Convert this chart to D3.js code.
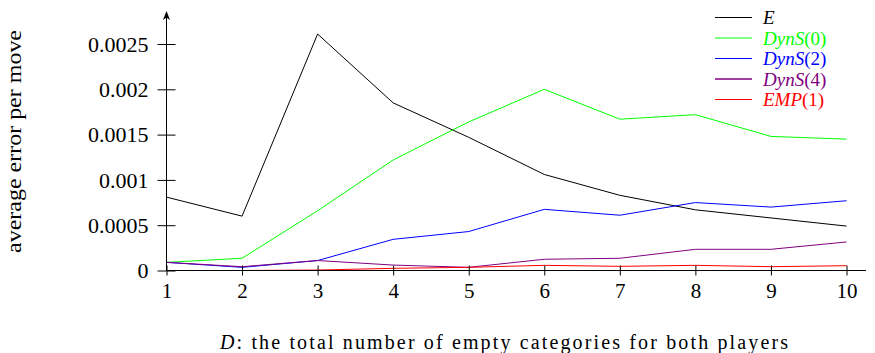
<!DOCTYPE html>
<html>
<head>
<meta charset="utf-8">
<script src="https://cdn.jsdelivr.net/npm/d3@7"></script>
<style>
  body { margin: 0; background: #fff; }
  svg { display: block; }
  text { font-family: "Liberation Serif", "Times New Roman", serif; fill: #000; }
  .axis path { display: none; }
</style>
</head>
<body>
<div id="chart"></div>
<script>

// values
var categories = [1, 2, 3, 4, 5, 6, 7, 8, 9, 10];
var yTicks = [0, 0.0005, 0.001, 0.0015, 0.002, 0.0025];
var yTickLabels = ["0", "0.0005", "0.001", "0.0015", "0.002", "0.0025"];

var valuesE     = [0.00081, 0.00060, 0.00261, 0.00185, 0.00147, 0.00106, 0.00083, 0.00067, 0.00058, 0.00049];
var valuesDyn0  = [0.00009, 0.000135, 0.00066, 0.00122, 0.00164, 0.00200, 0.00167, 0.00172, 0.00148, 0.00145];
var valuesDyn2  = [0.00009, 0.000035, 0.00011, 0.000344, 0.00043, 0.000675, 0.00061, 0.00075, 0.00070, 0.00077];
var valuesDyn4  = [0.00009, 0.000042, 0.00011, 0.00006, 0.000035, 0.000124, 0.000135, 0.000234, 0.000234, 0.000315];
var valuesEmp1  = [0, 0, 0.000005, 0.000024, 0.000035, 0.000057, 0.000046, 0.000057, 0.000042, 0.000053];

var seriesNames = [["E", ""], ["DynS", "(0)"], ["DynS", "(2)"], ["DynS", "(4)"], ["EMP", "(1)"]];
var seriesColors = ["#000000", "#00ff00", "#0000ff", "#800080", "#ff0000"];
var seriesValues = [valuesE, valuesDyn0, valuesDyn2, valuesDyn4, valuesEmp1];

var width = 875, height = 353;
var serif = "'Liberation Serif', serif";

var svg = d3.select("#chart").append("svg")
    .attr("width", width)
    .attr("height", height);

var x = d3.scaleLinear().domain([1, 10]).range([166.5, 846.5]);
var y = d3.scaleLinear().domain([0, 0.0025]).range([270.5, 44]);

// arrow head for y axis
svg.append("defs").append("marker")
    .attr("id", "arrow")
    .attr("viewBox", "0 0 10 10")
    .attr("refX", 9).attr("refY", 5)
    .attr("markerWidth", 9).attr("markerHeight", 9)
    .attr("markerUnits", "userSpaceOnUse")
    .attr("orient", "auto")
    .append("path")
    .attr("d", "M0,1 L10,5 L0,9 L3,5 Z")
    .attr("fill", "#000");

// series lines
var line = d3.line()
    .x(function (d, i) { return x(categories[i]); })
    .y(function (d) { return y(d); });

seriesValues.forEach(function (vals, k) {
    svg.append("path")
        .datum(vals)
        .attr("fill", "none")
        .attr("stroke", seriesColors[k])
        .attr("stroke-width", 1)
        .attr("d", line);
});

// y axis
var yAxis = d3.axisLeft(y)
    .tickValues(yTicks)
    .tickFormat(function (d, i) { return yTickLabels[i]; })
    .tickSizeOuter(0);

var gy = svg.append("g")
    .attr("class", "axis")
    .attr("transform", "translate(" + x(1) + ",0)")
    .call(yAxis)
    .attr("font-family", serif)
    .attr("font-size", 22);

gy.selectAll(".tick line").attr("x1", -9).attr("x2", 9).attr("stroke", "#000");
gy.selectAll(".tick text")
    .attr("x", -18)
    .attr("dy", "0.33em");

svg.append("line")
    .attr("x1", x(1)).attr("x2", x(1))
    .attr("y1", y(0)).attr("y2", 12)
    .attr("stroke", "#000")
    .attr("marker-end", "url(#arrow)");

// x axis
var xAxis = d3.axisBottom(x)
    .tickValues(categories)
    .tickFormat(function (d) { return d; })
    .tickSizeOuter(0);

var gx = svg.append("g")
    .attr("class", "axis")
    .attr("transform", "translate(0," + y(0) + ")")
    .call(xAxis)
    .attr("font-family", serif)
    .attr("font-size", 21);

gx.selectAll(".tick line").attr("y1", -5).attr("y2", 5).attr("stroke", "#000");
gx.selectAll(".tick text")
    .attr("y", 13)
    .attr("dy", "0.71em");

svg.append("line")
    .attr("x1", x(1)).attr("x2", 866)
    .attr("y1", y(0)).attr("y2", y(0))
    .attr("stroke", "#000");

// axis titles
svg.append("text")
    .attr("transform", "translate(21,141.5) rotate(-90)")
    .attr("text-anchor", "middle")
    .attr("textLength", 223)
    .attr("lengthAdjust", "spacingAndGlyphs")
    .style("font-size", "21px")
    .text("average error per move");

var xt = svg.append("text")
    .attr("x", 220)
    .attr("y", 349)
    .attr("textLength", 568)
    .attr("lengthAdjust", "spacing")
    .style("font-size", "20px");
xt.append("tspan").style("font-style", "italic").text("D");
xt.append("tspan").text(": the total number of empty categories for both players");

// legend
var legend = svg.append("g");
seriesNames.forEach(function (parts, k) {
    var ly = 17.5 + k * 20.5;
    legend.append("line")
        .attr("x1", 715).attr("x2", 752)
        .attr("y1", ly).attr("y2", ly)
        .attr("stroke", seriesColors[k])
        .attr("stroke-width", k === 3 ? 1.5 : 1);
    var t = legend.append("text")
        .attr("x", 763)
        .attr("y", ly)
        .attr("dy", "0.35em")
        .style("font-size", "19px")
        .style("fill", seriesColors[k]);
    t.append("tspan").style("font-style", "italic").text(parts[0]);
    t.append("tspan").text(parts[1]);
});

</script>
</body>
</html>
